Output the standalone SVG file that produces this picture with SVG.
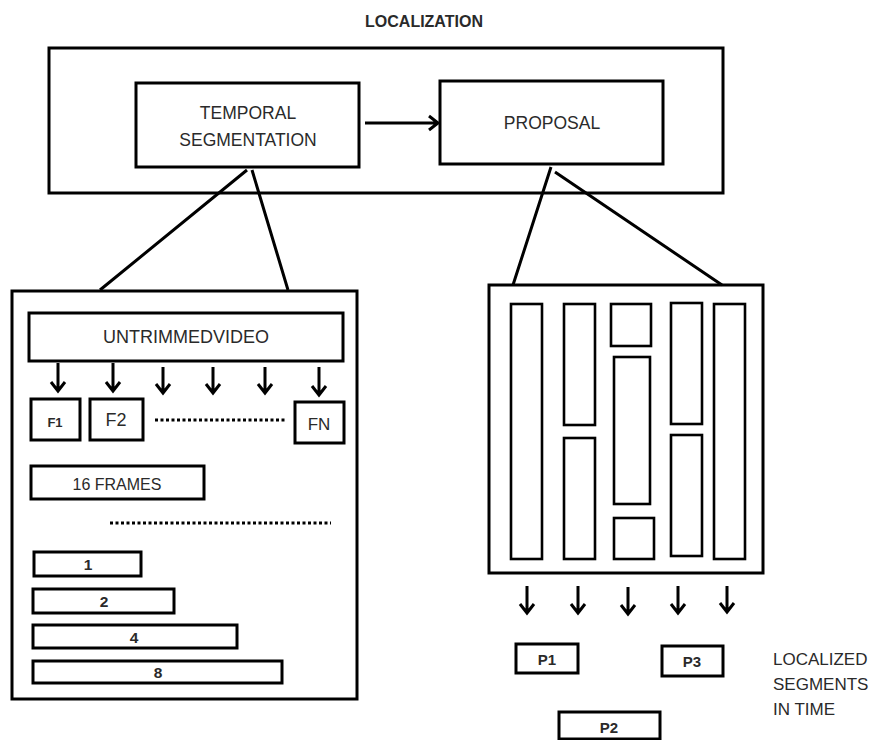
<svg xmlns="http://www.w3.org/2000/svg" width="876" height="740" viewBox="0 0 876 740">
<defs>
<style>
.box{fill:#fff;stroke:#000;stroke-width:3}
.sbox{fill:#fff;stroke:#000;stroke-width:2.6}
.t{font-family:"Liberation Sans",Arial,sans-serif;fill:#2a2a2a;text-anchor:middle}
.b{font-weight:bold}
.ln{stroke:#000;stroke-width:3;fill:none}
.arr{stroke:#000;stroke-width:3;fill:none;stroke-linejoin:miter}
.dot{stroke:#000;stroke-width:3;fill:none;stroke-dasharray:3 2.5}
</style>
</defs>
<rect width="876" height="740" fill="#fff"/>
<text class="t b" x="424" y="27" font-size="16">LOCALIZATION</text>

<g id="localization">
<rect class="box" x="49" y="48" width="674" height="145"/>
</g>
<g id="temporal-segmentation">
<rect class="box" x="136" y="83" width="223" height="84"/>
<text class="t" x="248" y="119" font-size="17.5">TEMPORAL</text>
<text class="t" x="248" y="146" font-size="17.5">SEGMENTATION</text>
</g>
<g id="proposal">
<rect class="box" x="440" y="81" width="223" height="83"/>
<text class="t" x="552" y="129" font-size="17.5">PROPOSAL</text>
</g>

<g id="segmentation-detail">
<rect class="box" x="12" y="291" width="345" height="408"/>
<g id="untrimmed-video">
<rect class="box" x="29" y="313" width="314" height="48"/>
<text class="t" x="186" y="343" font-size="18">UNTRIMMEDVIDEO</text>
</g>
<g id="f1"><rect class="box" x="31" y="399" width="49" height="41"/><text class="t b" x="55" y="427" font-size="13">F1</text></g>
<g id="f2"><rect class="box" x="90" y="399" width="53" height="41"/><text class="t" x="116" y="426" font-size="18">F2</text></g>
<g id="fn"><rect class="box" x="295" y="402" width="49" height="41"/><text class="t" x="319" y="430" font-size="17">FN</text></g>
<line class="dot" x1="155" y1="420" x2="287" y2="420"/>
<g id="frames16"><rect class="box" x="31" y="466" width="173" height="33"/><text class="t" x="117" y="490" font-size="16">16 FRAMES</text></g>
<line class="dot" x1="110" y1="523" x2="331" y2="523"/>
<g id="s1"><rect class="box" x="34" y="552" width="107" height="24"/><text class="t b" x="88" y="570" font-size="15.5">1</text></g>
<g id="s2"><rect class="box" x="33" y="589" width="141" height="24"/><text class="t b" x="104" y="607" font-size="15.5">2</text></g>
<g id="s4"><rect class="box" x="33" y="625" width="204" height="23"/><text class="t b" x="134" y="643" font-size="15.5">4</text></g>
<g id="s8"><rect class="box" x="33" y="661" width="249" height="22"/><text class="t b" x="158" y="678" font-size="15.5">8</text></g>
</g>

<g id="proposal-detail">
<rect class="box" x="489" y="285" width="274" height="288"/>
<rect class="sbox" x="511" y="304" width="31" height="255"/>
<rect class="sbox" x="564" y="304" width="31" height="121"/>
<rect class="sbox" x="564" y="438" width="31" height="121"/>
<rect class="sbox" x="611" y="304" width="40" height="42"/>
<rect class="sbox" x="614" y="357" width="36" height="147"/>
<rect class="sbox" x="614" y="518" width="40" height="41"/>
<rect class="sbox" x="671" y="303" width="31" height="121"/>
<rect class="sbox" x="671" y="435" width="31" height="121"/>
<rect class="sbox" x="714" y="304" width="31" height="255"/>
</g>

<g id="p1"><rect class="box" x="516" y="644" width="62" height="29"/><text class="t b" x="547" y="665" font-size="15">P1</text></g>
<g id="p3"><rect class="box" x="662" y="646" width="61" height="30"/><text class="t b" x="692" y="667" font-size="15">P3</text></g>
<g id="p2"><rect class="box" x="559" y="712" width="101" height="27"/><text class="t b" x="609" y="733" font-size="15">P2</text></g>

<g id="localized-label">
<text class="t" x="773" y="665" font-size="17" style="text-anchor:start">LOCALIZED</text>
<text class="t" x="773" y="690" font-size="17" style="text-anchor:start">SEGMENTS</text>
<text class="t" x="773" y="715" font-size="17" style="text-anchor:start">IN TIME</text>
</g>

<g id="connectors">
<path class="arr" d="M365,123 H438 M429,116 L438,123 L429,130"/>
<path class="ln" d="M247,170 L100,290 M252,170 L288,290"/>
<path class="ln" d="M551,167 L513,285 M555,172 L722,285"/>
<g id="frame-arrows">
<path class="arr" d="M58,363 V391 M51,382 L58,391 L65,382"/>
<path class="arr" d="M113,363 V391 M106,382 L113,391 L120,382"/>
<path class="arr" d="M163,367 V393 M156,384 L163,393 L170,384"/>
<path class="arr" d="M213,367 V393 M206,384 L213,393 L220,384"/>
<path class="arr" d="M265,367 V393 M258,384 L265,393 L272,384"/>
<path class="arr" d="M319,367 V395 M312,386 L319,395 L326,386"/>
</g>
<g id="proposal-arrows">
<path class="arr" d="M527,586 V613 M520,604 L527,613 L534,604"/>
<path class="arr" d="M578,586 V613 M571,604 L578,613 L585,604"/>
<path class="arr" d="M628,587 V614 M621,605 L628,614 L635,605"/>
<path class="arr" d="M678,586 V613 M671,604 L678,613 L685,604"/>
<path class="arr" d="M727,586 V612 M720,603 L727,612 L734,603"/>
</g>
</g>
</svg>
